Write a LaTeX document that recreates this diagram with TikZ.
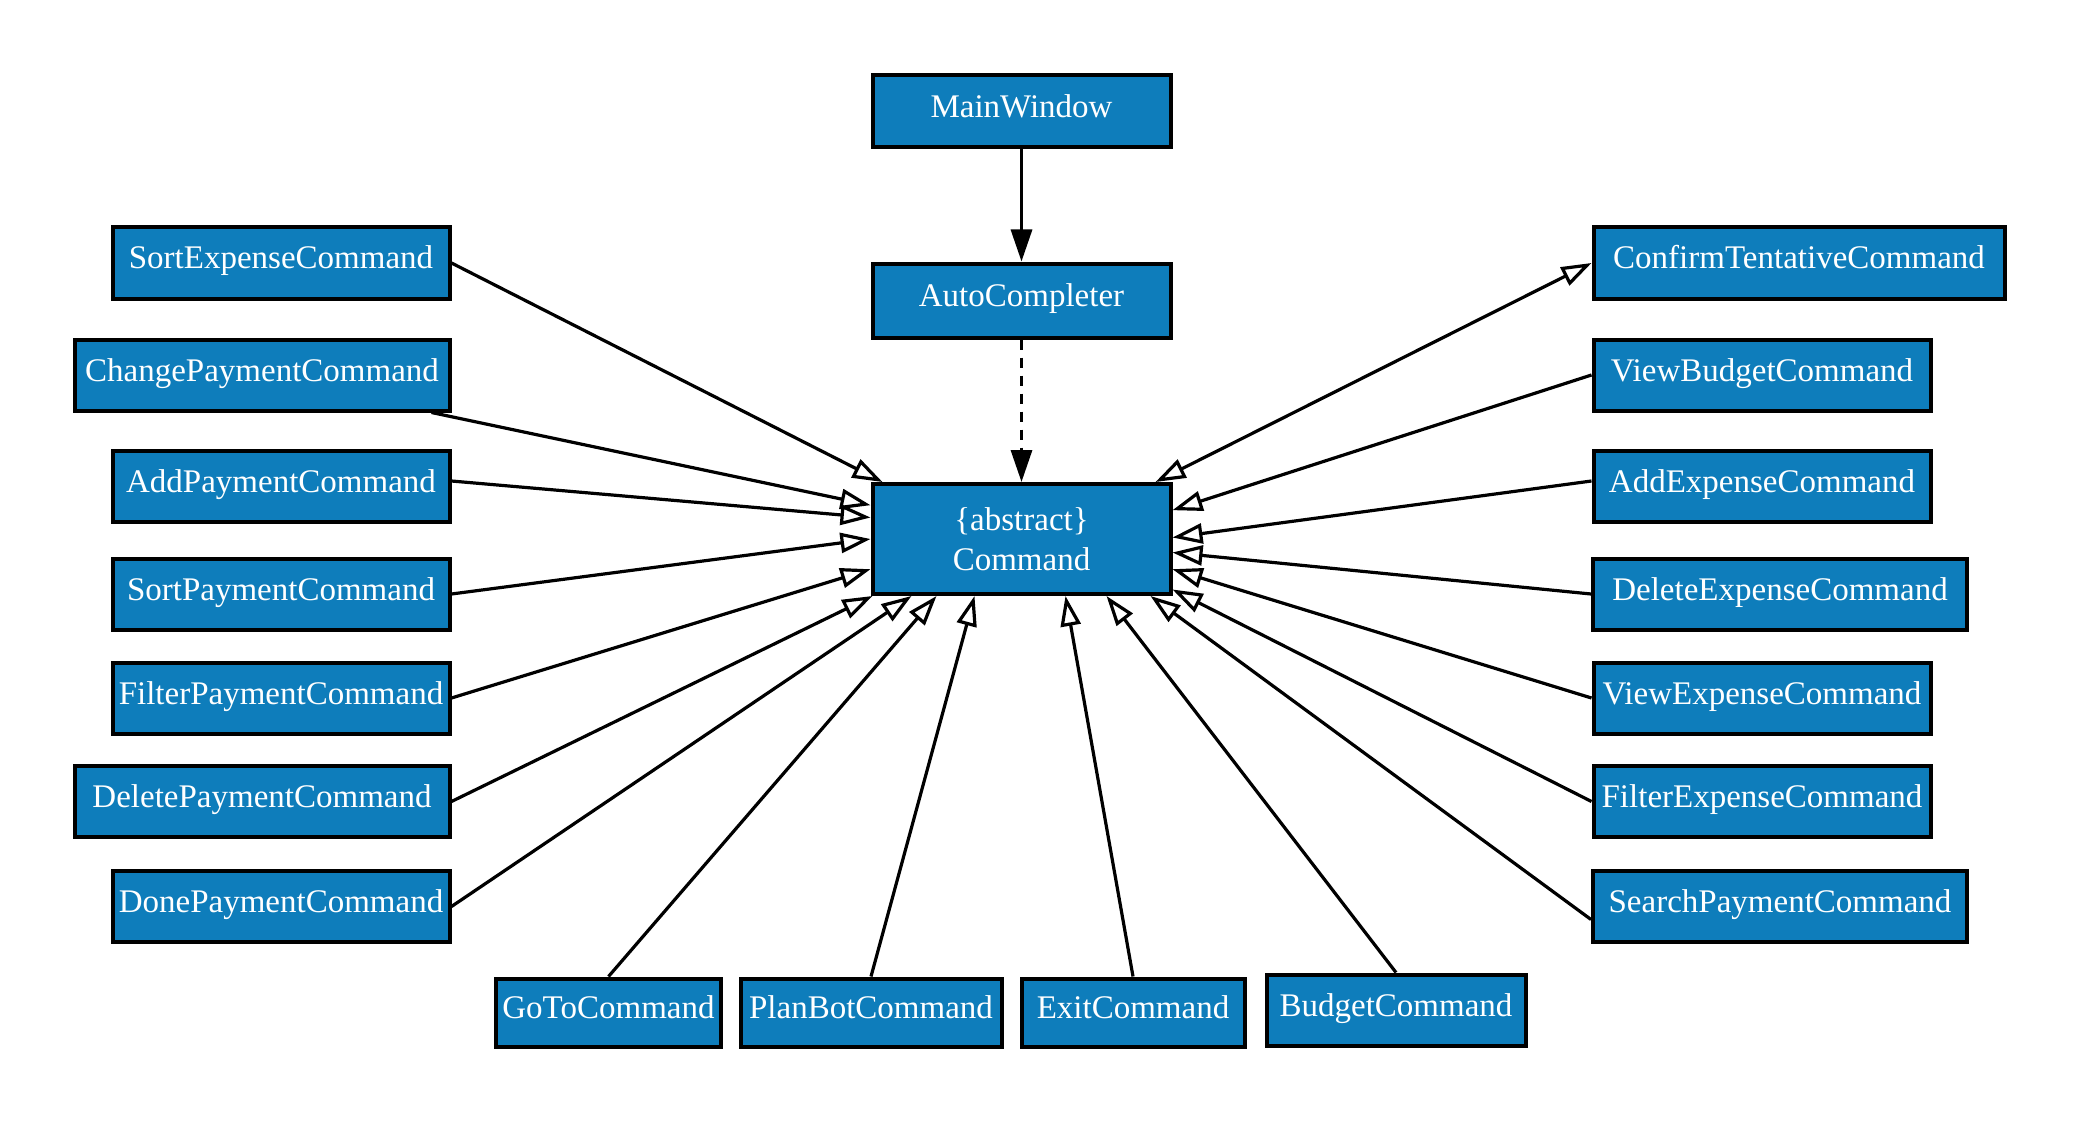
\documentclass[tikz,border=0pt]{standalone}
\usepackage{fontspec}
\setmainfont{Liberation Serif}
\usetikzlibrary{arrows.meta}
\definecolor{cmdblue}{RGB}{14,125,187}

\begin{document}
\begin{tikzpicture}[x=0.5pt, y=-0.5pt]
      \tikzstyle{BOX} = [draw, rectangle, line width=2pt, fill=cmdblue, text=white, minimum height=35.5pt, inner xsep=3pt, text height=11pt, text depth=5pt, font=\fontsize{16.5}{20}\selectfont]
      \tikzstyle{EXT} = [line width=1.6pt, -{Triangle[open, length=15pt, width=10pt]}]
      \tikzstyle{BIEXT} = [line width=1.6pt, {Triangle[open, length=15pt, width=10pt]}-{Triangle[open, length=15pt, width=10pt]}]
      \tikzstyle{USE} = [line width=1.6pt, -{Triangle[length=16pt, width=10.5pt]}]

      \useasboundingbox (0,0) rectangle (2081,1123);

      %%%%% VERTEX

      \node[BOX, minimum width=149pt, minimum height=36pt](main) at (1021.5, 111.5) {MainWindow};
      \node[BOX, minimum width=149pt, minimum height=37pt](auto) at (1021.5, 300.5) {AutoCompleter};
      \node[BOX, minimum width=149pt, minimum height=55pt, align=center, text height=, text depth=](cmd) at (1021.5, 539) {\{abstract\}\\Command};

      \node[BOX, minimum width=168.5pt](sortexp) at (281, 263) {SortExpenseCommand};
      \node[BOX, minimum width=187.5pt](chgpay) at (262, 375) {ChangePaymentCommand};
      \node[BOX, minimum width=168.5pt](addpay) at (281, 486) {AddPaymentCommand};
      \node[BOX, minimum width=168.5pt](sortpay) at (281, 594) {SortPaymentCommand};
      \node[BOX, minimum width=168.5pt](filtpay) at (281, 698) {FilterPaymentCommand};
      \node[BOX, minimum width=187.5pt](delpay) at (262, 801.5) {DeletePaymentCommand};
      \node[BOX, minimum width=168.5pt](donepay) at (281, 906.5) {DonePaymentCommand};

      \node[BOX, minimum width=205.5pt](confirm) at (1799, 263) {ConfirmTentativeCommand};
      \node[BOX, minimum width=168.5pt](viewbud) at (1762, 375) {ViewBudgetCommand};
      \node[BOX, minimum width=168.5pt](addexp) at (1762, 486) {AddExpenseCommand};
      \node[BOX, minimum width=187pt](delexp) at (1780, 594) {DeleteExpenseCommand};
      \node[BOX, minimum width=168.5pt](viewexp) at (1762, 698) {ViewExpenseCommand};
      \node[BOX, minimum width=168.5pt](filtexp) at (1762, 801.5) {FilterExpenseCommand};
      \node[BOX, minimum width=187pt](srchpay) at (1780, 906.5) {SearchPaymentCommand};

      \node[BOX, minimum width=111pt, minimum height=34pt](goto) at (608.5, 1012.5) {GoToCommand};
      \node[BOX, minimum width=130.5pt, minimum height=34pt](planbot) at (871, 1012.5) {PlanBotCommand};
      \node[BOX, minimum width=111.5pt, minimum height=34pt](exit) at (1133, 1012.5) {ExitCommand};
      \node[BOX, minimum width=129.5pt, minimum height=35.5pt](budget) at (1396, 1010) {BudgetCommand};

      %%%%% EDGES
      \draw[USE]  (main) -- (auto);
      \draw[USE, dash pattern=on 5pt off 4pt]  (auto) -- (cmd);

      \draw[EXT]  (sortexp.east) -- ([xshift=6pt]cmd.north west);
      \draw[EXT]  ([xshift=-10pt]chgpay.south east) -- ([yshift=16.9pt]cmd.west);
      \draw[EXT]  ([yshift=2.5pt]addpay.east) -- ([yshift=10.75pt]cmd.west);
      \draw[EXT]  (sortpay.east) -- (cmd.west);
      \draw[EXT]  (filtpay.east) -- ([yshift=-15.1pt]cmd.west);
      \draw[EXT]  (delpay.east) -- ([xshift=1pt]cmd.south west);
      \draw[EXT]  (donepay.east) -- ([xshift=20.5pt]cmd.south west);

      \draw[EXT]  (goto.north) -- ([xshift=33pt]cmd.south west);
      \draw[EXT]  (planbot.north) -- ([xshift=52pt]cmd.south west);
      \draw[EXT]  (exit.north) -- ([xshift=97.5pt]cmd.south west);
      \draw[EXT]  (budget.north) -- ([xshift=118pt]cmd.south west);

      \draw[EXT]  ([yshift=-6.5pt]srchpay.west) -- ([xshift=-11pt]cmd.south east);
      \draw[EXT]  (filtexp.west) -- ([yshift=-25.25pt]cmd.east);
      \draw[EXT]  (viewexp.west) -- ([yshift=-15.1pt]cmd.east);
      \draw[EXT]  (delexp.west) -- ([yshift=-6.75pt]cmd.east);
      \draw[EXT]  ([yshift=2.5pt]addexp.west) -- ([yshift=0.75pt]cmd.east);
      \draw[EXT]  (viewbud.west) -- ([yshift=14.4pt]cmd.east);
      \draw[BIEXT]  (confirm.west) -- ([xshift=-8.5pt]cmd.north east);

\end{tikzpicture}
\end{document}
